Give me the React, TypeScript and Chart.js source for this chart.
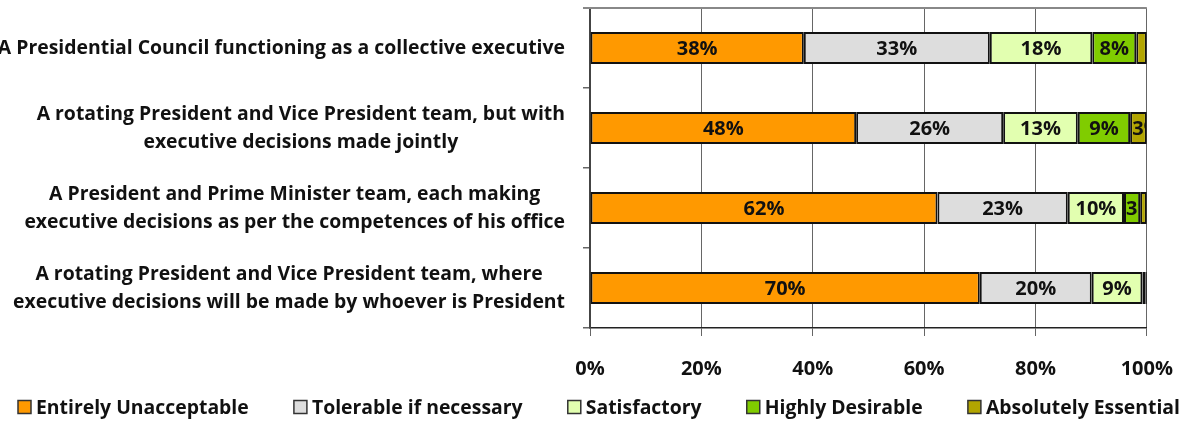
import React, { useEffect, useRef } from "react";
import { Chart, registerables } from "chart.js";

Chart.register(...registerables);

const categories: string[][] = [
  ["A Presidential Council functioning as a collective executive"],
  ["A rotating President and Vice President team, but with", "executive decisions made jointly"],
  ["A President and Prime Minister team, each making", "executive decisions as per the competences of his office"],
  ["A rotating President and Vice President team, where", "executive decisions will be made by whoever is President"],
];

const seriesNames = [
  "Entirely Unacceptable",
  "Tolerable if necessary",
  "Satisfactory",
  "Highly Desirable",
  "Absolutely Essential",
];

const entirelyUnacceptable = [38.4, 47.8, 62.4, 70.0];
const tolerableIfNecessary = [33.4, 26.4, 23.4, 20.1];
const satisfactory = [18.4, 13.4, 10.1, 9.1];
const highlyDesirable = [7.9, 9.4, 2.9, 0.6];
const absolutelyEssential = [1.9, 3.0, 1.2, 0.2];

const xTicks = [0, 20, 40, 60, 80, 100];

const colors = ["#FF9900", "#DDDDDD", "#E2FFB0", "#80CC00", "#B2A500"];

const FONT_FAMILY = "'Open Sans', Lato, sans-serif";
const FONT_SIZE = 20;
const FONT = `bold ${FONT_SIZE}px ${FONT_FAMILY}`;
const CAT_FONT_SIZE = 19.4;
const CAT_FONT = `bold ${CAT_FONT_SIZE}px ${FONT_FAMILY}`;

const labelsPlugin = {
  id: "customLabels",
  afterDatasetsDraw(chart: any) {
    const ctx = chart.ctx;
    ctx.save();
    ctx.font = FONT;
    ctx.fillStyle = "#111";
    ctx.textBaseline = "middle";
    chart.data.datasets.forEach((ds: any, di: number) => {
      const meta = chart.getDatasetMeta(di);
      meta.data.forEach((el: any, i: number) => {
        const v = ds.data[i];
        const x0 = Math.min(el.base, el.x);
        const x1 = Math.max(el.base, el.x);
        const w = x1 - x0;
        if (w < 12) return;
        const h = el.height;
        const txt = Math.round(v) + "%";
        const tw = ctx.measureText(txt).width;
        ctx.save();
        ctx.beginPath();
        ctx.rect(x0 + 2, el.y - h / 2, w - 4, h);
        ctx.clip();
        if (tw + 4 <= w) {
          ctx.textAlign = "center";
          ctx.fillText(txt, (x0 + x1) / 2, el.y + 1);
        } else {
          ctx.textAlign = "left";
          ctx.fillText(txt, x0 + 2, el.y + 1);
        }
        ctx.restore();
      });
    });
    ctx.restore();
  },
  afterDraw(chart: any) {
    const ctx = chart.ctx;
    const area = chart.chartArea;
    const yScale = chart.scales.y;
    ctx.save();
    // top border line
    ctx.strokeStyle = "#888";
    ctx.lineWidth = 2;
    ctx.beginPath();
    ctx.moveTo(area.left - 7, area.top);
    ctx.lineTo(area.right, area.top);
    ctx.stroke();

    // category labels
    ctx.font = CAT_FONT;
    ctx.fillStyle = "#111";
    ctx.textAlign = "center";
    ctx.textBaseline = "middle";
    const rightEdge = area.left - 25;
    const lineH = 28;
    categories.forEach((lines, i) => {
      const yc = yScale.getPixelForTick(i);
      const bw = Math.max(...lines.map((l) => ctx.measureText(l).width));
      const cx = rightEdge - bw / 2;
      lines.forEach((l, j) => {
        const y = yc + (j - (lines.length - 1) / 2) * lineH;
        ctx.fillText(l, cx, y);
      });
    });

    // legend
    ctx.font = CAT_FONT;
    const box = 13;
    const gapBoxText = 5;
    const widths = seriesNames.map((n) => ctx.measureText(n).width);
    const textTotal = widths.reduce((a, b) => a + b, 0) + seriesNames.length * (box + gapBoxText);
    const targetWidth = 1162;
    const gapItems = Math.max(14, (targetWidth - textTotal) / (seriesNames.length - 1));
    const total = textTotal + (seriesNames.length - 1) * gapItems;
    let x = chart.width / 2 + 2 - total / 2;
    const ly = 407;
    ctx.textAlign = "left";
    seriesNames.forEach((n, i) => {
      ctx.fillStyle = colors[i];
      ctx.fillRect(x, ly - box / 2, box, box);
      ctx.strokeStyle = "#333";
      ctx.lineWidth = 1.5;
      ctx.strokeRect(x, ly - box / 2, box, box);
      ctx.fillStyle = "#111";
      ctx.fillText(n, x + box + gapBoxText, ly + 1);
      x += box + gapBoxText + widths[i] + gapItems;
    });
    ctx.restore();
  },
};

export default function App() {
  const canvasRef = useRef<HTMLCanvasElement | null>(null);

  useEffect(() => {
    let chart: Chart | null = null;
    let cancelled = false;
    const make = () => {
      if (cancelled || !canvasRef.current) return;
      const series = [
        entirelyUnacceptable,
        tolerableIfNecessary,
        satisfactory,
        highlyDesirable,
        absolutelyEssential,
      ];
      chart = new Chart(canvasRef.current, {
        type: "bar",
        data: {
          labels: categories.map((c) => c.join(" ")),
          datasets: series.map((d, i) => ({
            label: seriesNames[i],
            data: d,
            backgroundColor: colors[i],
            borderColor: "#111",
            borderWidth: 2,
            borderSkipped: false,
            barPercentage: 0.4,
            categoryPercentage: 1,
          })),
        },
        options: {
          indexAxis: "y",
          animation: false,
          responsive: false,
          maintainAspectRatio: false,
          layout: { padding: { top: 8, right: 47, left: 0, bottom: 38 } },
          plugins: {
            legend: { display: false },
            tooltip: { enabled: false },
          },
          scales: {
            x: {
              stacked: true,
              min: 0,
              max: 100,
              afterBuildTicks: (scale: any) => {
                scale.ticks = xTicks.map((v) => ({ value: v }));
              },
              afterFit: (scale: any) => {
                scale.height = 55;
              },
              ticks: {
                callback: (v: any) => v + "%",
                font: { family: FONT_FAMILY, size: FONT_SIZE, weight: "bold" },
                color: "#111",
                padding: 21,
                maxRotation: 0,
              },
              grid: {
                color: "#666",
                lineWidth: 1,
                tickLength: 8,
                drawTicks: true,
              },
              border: { display: true, color: "#222", width: 1.5 },
            },
            y: {
              stacked: true,
              afterFit: (scale: any) => {
                scale.width = 590;
              },
              ticks: { display: false },
              grid: {
                offset: true,
                drawOnChartArea: false,
                drawTicks: true,
                tickLength: 7,
                color: "#666",
                lineWidth: 1.5,
              },
              border: { display: true, color: "#444", width: 2 },
            },
          },
        },
        plugins: [labelsPlugin],
      } as any);
    };
    const fontsApi = (document as any).fonts;
    if (fontsApi && fontsApi.load) {
      Promise.all([fontsApi.load(FONT), fontsApi.load(CAT_FONT)]).then(make, make);
    } else {
      make();
    }
    return () => {
      cancelled = true;
      if (chart) chart.destroy();
    };
  }, []);

  return (
    <div style={{ position: "absolute", left: 0, top: 0, width: 1194, height: 421, background: "#fff" }}>
      <canvas ref={canvasRef} width={1194} height={421} style={{ display: "block", width: 1194, height: 421 }} />
    </div>
  );
}
